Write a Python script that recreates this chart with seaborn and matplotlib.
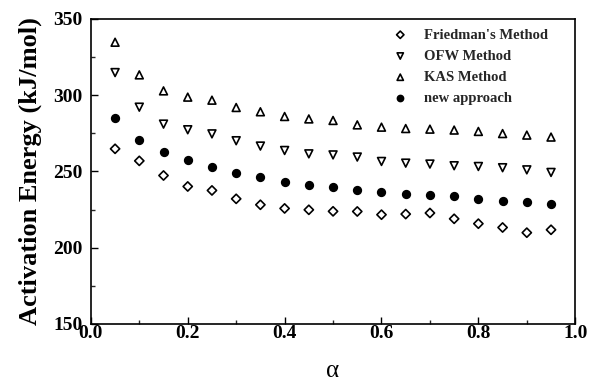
import numpy as np
import pandas as pd
import matplotlib
matplotlib.use("Agg")
import matplotlib.pyplot as plt
import seaborn as sns
from matplotlib.ticker import MultipleLocator

alpha = [0.05, 0.10, 0.15, 0.20, 0.25, 0.30, 0.35, 0.40, 0.45, 0.50,
         0.55, 0.60, 0.65, 0.70, 0.75, 0.80, 0.85, 0.90, 0.95]
friedman = [264.8, 256.9, 247.3, 240.1, 237.5, 232.0, 228.1, 225.7, 224.8, 223.8,
            223.7, 221.6, 222.0, 222.7, 218.9, 215.7, 213.2, 209.8, 211.7]
ofw = [314.8, 292.1, 281.0, 277.3, 274.6, 270.1, 266.6, 263.7, 261.5, 260.8,
       259.4, 256.5, 255.4, 254.8, 253.7, 253.2, 252.4, 251.0, 249.3]
kas = [334.7, 313.3, 302.8, 298.7, 296.7, 291.9, 289.1, 286.0, 284.4, 283.4,
       280.5, 279.0, 278.1, 277.7, 277.1, 276.2, 274.8, 273.8, 272.5]
new_approach = [284.9, 270.7, 262.6, 257.6, 253.2, 248.9, 246.0, 243.2, 241.0, 239.7,
                237.5, 236.2, 235.3, 234.2, 233.6, 232.0, 230.9, 229.6, 228.8]

series_names = ["Friedman's Method", "OFW Method", "KAS Method", "new approach"]
x_ticks = [0.0, 0.2, 0.4, 0.6, 0.8, 1.0]
y_ticks = [150, 200, 250, 300, 350]

sns.set_theme(style="white")
plt.rcParams['font.family'] = ['Liberation Serif', 'DejaVu Serif']

fig = plt.figure(figsize=(5.9, 3.86), dpi=100)
ax = fig.add_axes([0.154, 0.161, 0.821, 0.790])

styles = [
    (friedman, series_names[0], 'D', 22, 'none'),
    (ofw, series_names[1], 'v', 32, 'none'),
    (kas, series_names[2], '^', 32, 'none'),
    (new_approach, series_names[3], 'o', 30, 'black'),
]
for vals, name, mk, s, fc in styles:
    df = pd.DataFrame({"alpha": alpha, "E": vals})
    sns.scatterplot(data=df, x="alpha", y="E", marker=mk, s=s,
                    facecolor=fc, edgecolor='black', linewidth=1.2,
                    ax=ax, label=name, legend=False)

ax.set_xlim(0.0, 1.0)
ax.set_ylim(150, 350)
ax.set_xticks(x_ticks)
ax.set_yticks(y_ticks)
ax.xaxis.set_minor_locator(MultipleLocator(0.1))
ax.yaxis.set_minor_locator(MultipleLocator(25))
ax.set_xticklabels([f"{v:.1f}" for v in x_ticks], fontweight='bold', fontsize=14)
ax.set_yticklabels([str(v) for v in y_ticks], fontweight='bold', fontsize=14)
ax.tick_params(axis='x', which='major', pad=1)
ax.tick_params(axis='y', which='major', pad=6)
ax.tick_params(axis='both', which='major', direction='in', length=5, width=1.0,
               bottom=True, left=True, top=False, right=False, colors='black')
ax.tick_params(axis='both', which='minor', direction='in', length=3, width=1.0,
               bottom=True, left=True, top=False, right=False)
for sp in ax.spines.values():
    sp.set_visible(True)
    sp.set_color('black')
    sp.set_linewidth(1.2)

ax.set_xlabel("α", fontsize=18, labelpad=13, color='black')
ax.set_ylabel("Activation Energy (kJ/mol)", fontsize=19, fontweight='bold',
              labelpad=8, color='black')

h, l = ax.get_legend_handles_labels()
leg = ax.legend(h, l, loc='upper right', frameon=False, prop={'weight': 'bold', 'size': 10.5},
                handletextpad=0.6, labelspacing=0.55, bbox_to_anchor=(0.97, 1.012),
                markerscale=0.8)

fig.savefig("out.png", dpi=100)
